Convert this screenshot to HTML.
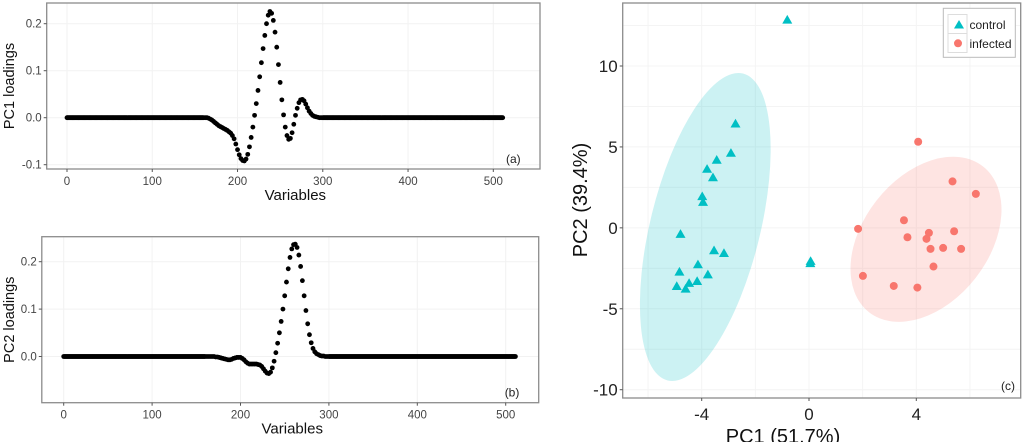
<!DOCTYPE html>
<html><head><meta charset="utf-8"><style>
html,body{margin:0;padding:0;background:#fff;}
svg{display:block;font-family:"Liberation Sans",Arial,sans-serif;}
</style></head><body>
<svg id="fig" width="1024" height="442" viewBox="0 0 1024 442">
<g id="pa"></g>
<g id="pb"></g>
<g id="pc"></g>
</svg>
<script>
// ---------- data ----------
const loadVarStart = 0, loadVarEnd = 511;
const activeVars = [160,162,164,166,168,170,172,174,176,178,180,182,184,186,188,190,192,194,196,198,200,202,204,206,208,210,212,214,216,218,220,222,224,226,228,230,232,234,236,238,240,242,244,246,248,250,252,254,256,258,260,262,264,266,268,270,272,274,276,278,280,282,284,286,288,290,292,294,296,298,300];
const pc1Vals = [0,0,0,-0.001,-0.003,-0.005,-0.008,-0.011,-0.014,-0.017,-0.019,-0.021,-0.023,-0.025,-0.027,-0.03,-0.033,-0.038,-0.045,-0.056,-0.068,-0.079,-0.087,-0.091,-0.092,-0.088,-0.078,-0.062,-0.042,-0.02,0.005,0.03,0.058,0.087,0.117,0.147,0.175,0.2,0.218,0.226,0.222,0.207,0.182,0.15,0.113,0.075,0.038,0.006,-0.02,-0.038,-0.046,-0.044,-0.032,-0.014,0.005,0.02,0.032,0.038,0.039,0.036,0.029,0.021,0.014,0.009,0.005,0.003,0.002,0.001,0,0,0];
const pc2Vals = [0,0,0,0,0,0,-0.001,-0.001,-0.002,-0.003,-0.004,-0.005,-0.006,-0.007,-0.007,-0.006,-0.004,-0.003,-0.002,-0.002,-0.002,-0.004,-0.007,-0.011,-0.014,-0.016,-0.016,-0.016,-0.016,-0.016,-0.017,-0.018,-0.021,-0.026,-0.031,-0.035,-0.036,-0.033,-0.024,-0.01,0.008,0.028,0.05,0.074,0.1,0.128,0.157,0.185,0.209,0.227,0.236,0.237,0.23,0.214,0.19,0.16,0.128,0.097,0.069,0.046,0.029,0.017,0.01,0.006,0.004,0.002,0.001,0.001,0,0,0];
const baselineVal = 0;
const xTicksLoad = [0,100,200,300,400,500];
const yTicksA = [-0.1,0.0,0.1,0.2];
const yTicksB = [0.0,0.1,0.2];
const yTickLabelsA = ["-0.1","0.0","0.1","0.2"];
const yTickLabelsB = ["0.0","0.1","0.2"];

const ctrlX = [-0.81,-2.74,-2.91,-3.44,-3.80,-3.58,-3.98,-3.95,-4.79,-3.54,-3.17,0.06,0.05,-4.14,-4.83,-3.77,-4.17,-4.47,-4.93,-4.60];
const ctrlY = [12.85,6.43,4.62,4.19,3.63,3.11,1.94,1.59,-0.39,-1.40,-1.57,-2.06,-2.2,-2.27,-2.72,-2.89,-3.30,-3.42,-3.61,-3.77];
const infX = [4.07,5.35,6.22,3.54,1.83,3.67,4.47,4.38,5.41,4.53,5.00,5.67,4.64,2.01,3.16,4.04];
const infY = [5.32,2.87,2.10,0.47,-0.06,-0.58,-0.31,-0.68,-0.21,-1.30,-1.24,-1.30,-2.39,-2.97,-3.59,-3.69];
const xTicksC = [-4,0,4];
const yTicksC = [-10,-5,0,5,10];

// ---------- helpers ----------
const NS = "http://www.w3.org/2000/svg";
function mk(tag, attrs, parent, text){
  const e = document.createElementNS(NS, tag);
  for (const k in attrs) e.setAttribute(k, attrs[k]);
  if (text !== undefined) e.textContent = text;
  parent.appendChild(e); return e;
}
function lin(d0,d1,r0,r1){ return v => r0 + (v-d0)*(r1-r0)/(d1-d0); }

function loadPanel(g, box, xs, ys, vals, yTicks, yLabels, yTitle, tag){
  const {L,R,T,B} = box;
  const bg = mk("rect",{x:L,y:T,width:R-L,height:B-T,fill:"#fff"},g);
  
  
  for (let i=0;i<xTicksLoad.length;i++){
    const gx = mk("line",{x1:xs(xTicksLoad[i]),x2:xs(xTicksLoad[i]),y1:T,y2:B,stroke:"#f2f2f2","stroke-width":1},g);
    
    
  }
  for (let i=0;i<yTicks.length;i++){
    const gy = mk("line",{x1:L,x2:R,y1:ys(yTicks[i]),y2:ys(yTicks[i]),stroke:"#f2f2f2","stroke-width":1},g);
    
    
  }
  const pts = [];
  for (let v=loadVarStart; v<activeVars[0]; v+=1) pts.push([v,baselineVal]);
  for (let i=0;i<activeVars.length;i++) pts.push([activeVars[i],vals[i]]);
  for (let v=activeVars[activeVars.length-1]+1; v<=loadVarEnd; v+=1) pts.push([v,baselineVal]);
  const dg = mk("g",{fill:"#000"},g);
  
  
  for (const p of pts){
    const c = mk("circle",{cx:xs(p[0]),cy:ys(p[1]),r:2.4},dg);
    
    
  }
  const fr = mk("rect",{x:L,y:T,width:R-L,height:B-T,fill:"none",stroke:"#8c8c8c","stroke-width":1.3},g);
  
  
  for (let i=0;i<xTicksLoad.length;i++){
    const x = xs(xTicksLoad[i]);
    const t = mk("line",{x1:x,x2:x,y1:B,y2:B+3,stroke:"#555"},g);
    
    
    const lb = mk("text",{x:x,y:B+16,"text-anchor":"middle","font-size":11.5,fill:"#444"},g,String(xTicksLoad[i]));
    
    
  }
  for (let i=0;i<yTicks.length;i++){
    const y = ys(yTicks[i]);
    const t = mk("line",{x1:L-3,x2:L,y1:y,y2:y,stroke:"#555"},g);
    
    
    const lb = mk("text",{x:L-5,y:y+4,"text-anchor":"end","font-size":11.5,fill:"#444"},g,yLabels[i]);
    
    
  }
  const xt = mk("text",{x:(L+R)/2+2,y:B+31,"text-anchor":"middle","font-size":15,fill:"#111"},g,"Variables");
  
  
  const yt = mk("text",{x:0,y:0,"text-anchor":"middle","font-size":14.5,fill:"#111",transform:`translate(14,${(T+B)/2}) rotate(-90)`},g,yTitle);
  
  
  const tg = mk("text",{x:R-34,y:B-6,"font-size":12,fill:"#222"},g,tag);
  
  
}

{
  const box={L:46.7,R:540,T:3,B:169};
  loadPanel(document.getElementById('pa'), box, lin(0,500,67,493.3), lin(0,0.2,117.7,23.7), pc1Vals, yTicksA, yTickLabelsA, "PC1 loadings", "(a)");
}
{
  const box={L:41.8,R:538.7,T:236.7,B:402.7};
  loadPanel(document.getElementById('pb'), box, lin(0,500,63.7,505.7), lin(0,0.2,356.5,261.7), pc2Vals, yTicksB, yTickLabelsB, "PC2 loadings", "(b)");
}
{
  const g = document.getElementById('pc');
  const L=622.7,R=1020.7,T=3,B=398;
  const xs = lin(-4,4,701.7,916.3), ys = lin(-10,10,389.7,66);
  const bg = mk("rect",{x:L,y:T,width:R-L,height:B-T,fill:"#fff"},g);
  
  
  for (const v of [-6,-2,2,6,-4,0,4]){
    const gl = mk("line",{x1:xs(v),x2:xs(v),y1:T,y2:B,stroke:"#f4f4f4"},g);
    
    
  }
  for (const v of [-7.5,-2.5,2.5,7.5,12.5,-10,-5,0,5,10]){
    const gl = mk("line",{x1:L,x2:R,y1:ys(v),y2:ys(v),stroke:"#f4f4f4"},g);
    
    
  }
  const e1 = mk("ellipse",{cx:705.3,cy:227,rx:158,ry:55,fill:"#00BFC4","fill-opacity":0.2,transform:"rotate(103.8 705.3 227)"},g);
  
  
  const e2 = mk("ellipse",{cx:926,cy:239.3,rx:92.5,ry:62.9,fill:"#F8766D","fill-opacity":0.2,transform:"rotate(-52 926 239.3)"},g);
  
  
  for (let i=0;i<ctrlX.length;i++){
    const x=xs(ctrlX[i]), y=ys(ctrlY[i]);
    const p = mk("polygon",{points:`${x},${y-5} ${x-5},${y+3.7} ${x+5},${y+3.7}`,fill:"#00BFC4"},g);
    
    
  }
  for (let i=0;i<infX.length;i++){
    const c = mk("circle",{cx:xs(infX[i]),cy:ys(infY[i]),r:4,fill:"#F8766D"},g);
    
    
  }
  const fr = mk("rect",{x:L,y:T,width:R-L,height:B-T,fill:"none",stroke:"#8c8c8c","stroke-width":1.3},g);
  
  
  for (const v of xTicksC){
    const t = mk("line",{x1:xs(v),x2:xs(v),y1:B,y2:B+3,stroke:"#555"},g);
    
    
    const lb = mk("text",{x:xs(v),y:B+22,"text-anchor":"middle","font-size":17,fill:"#222"},g,String(v));
    
    
  }
  for (const v of yTicksC){
    const t = mk("line",{x1:L-3,x2:L,y1:ys(v),y2:ys(v),stroke:"#555"},g);
    
    
    const lb = mk("text",{x:L-5,y:ys(v)+6,"text-anchor":"end","font-size":17,fill:"#222"},g,String(v));
    
    
  }
  const xt = mk("text",{x:783,y:443,"text-anchor":"middle","font-size":20,fill:"#111"},g,"PC1 (51.7%)");
  
  
  const yt = mk("text",{x:0,y:0,"text-anchor":"middle","font-size":20,fill:"#111",transform:"translate(587,200) rotate(-90)"},g,"PC2 (39.4%)");
  
  
  const tg = mk("text",{x:1001,y:390,"font-size":12,fill:"#222"},g,"(c)");
  
  
  const lg = mk("g",{},g);
  
  
  mk("rect",{x:943.3,y:8.3,width:72,height:49,fill:"#fff",stroke:"#bbb"},lg);
  const lk1 = mk("rect",{x:948,y:14.5,width:19,height:19,fill:"#fff",stroke:"#ddd"},lg);
  
  
  const lk2 = mk("rect",{x:948,y:33.5,width:19,height:19,fill:"#fff",stroke:"#ddd"},lg);
  
  
  const tri = mk("polygon",{points:"959,20 954,28.5 964,28.5",fill:"#00BFC4"},lg);
  
  
  const cir = mk("circle",{cx:958,cy:43.3,r:4,fill:"#F8766D"},lg);
  
  
  const t1 = mk("text",{x:969.5,y:29,"font-size":12,fill:"#222"},lg,"control");
  
  
  const t2 = mk("text",{x:969.5,y:48,"font-size":12,fill:"#222"},lg,"infected");
  
  
}
</script>
</body></html>
